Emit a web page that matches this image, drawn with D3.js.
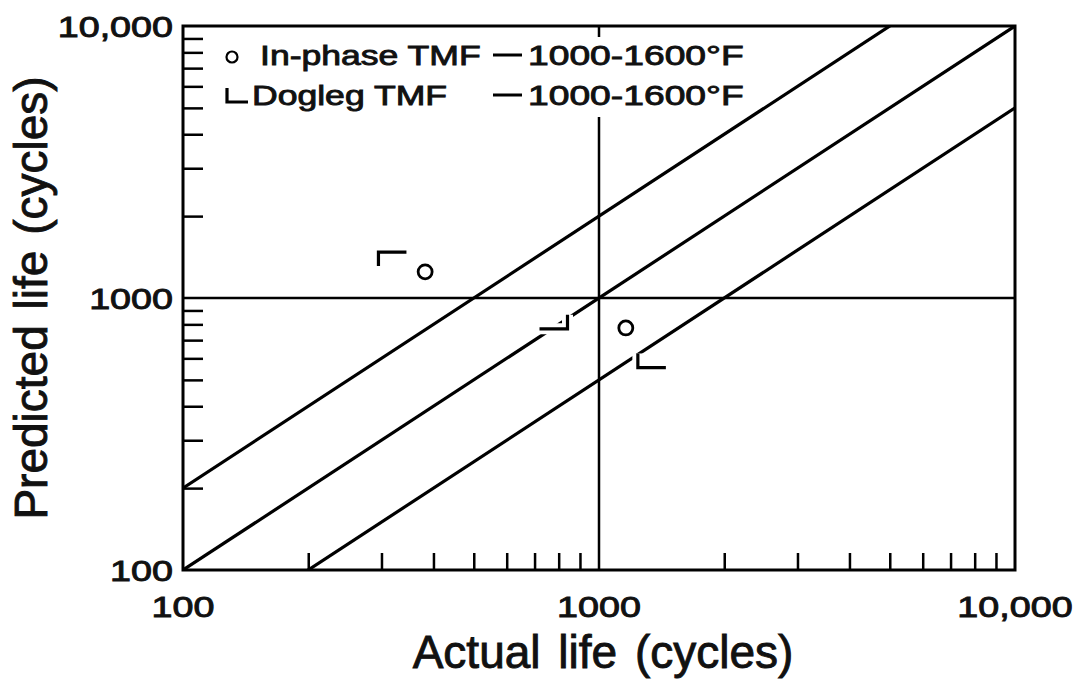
<!DOCTYPE html>
<html>
<head>
<meta charset="utf-8">
<script src="https://cdnjs.cloudflare.com/ajax/libs/d3/7.8.5/d3.min.js"></script>
<style>
    body { margin: 0; background: #fff; }
    svg text { font-family: "Liberation Sans", Arial, sans-serif; fill: #111; stroke: #111; stroke-width: 0.9; }
</style>
</head>
<body>
<script>
// chart values
const xTickValues = [100, 1000, 10000];
const xTickLabels = ["100", "1000", "10,000"];
const yTickValues = [100, 1000, 10000];
const yTickLabels = ["100", "1000", "10,000"];
const minorTicks = [200, 300, 400, 500, 600, 700, 800, 900, 2000, 3000, 4000, 5000, 6000, 7000, 8000, 9000];
const lifeFactors = [2, 1, 0.5];                 // predicted = factor * actual
const inPhaseActual = [382, 1160];
const inPhasePredicted = [1248, 776];
const doglegActual = [295, 840, 1240];
const doglegPredicted = [1475, 770, 555];
const doglegArms = [[1, 1], [-1, -1], [1, -1]];   // direction of the horizontal / vertical stroke
const legendNames = ["In-phase TMF", "Dogleg TMF"];
const legendTemps = ["1000-1600°F", "1000-1600°F"];

const w = 1077, h = 681;
const padLeft = 183, padRight = 1015, padTop = 26, padBottom = 570;

const svg = d3.select("body").append("svg")
    .attr("width", w).attr("height", h);

const xScale = d3.scaleLog().domain([100, 10000]).range([padLeft, padRight]);
const yScale = d3.scaleLog().domain([100, 10000]).range([padBottom, padTop]);

svg.append("clipPath").attr("id", "plot")
    .append("rect")
    .attr("x", padLeft).attr("y", padTop)
    .attr("width", padRight - padLeft).attr("height", padBottom - padTop);

// text a bit wider than the font, like the original lettering
var wideText = function (x, y, str, size, anchor, stretch) {
    return svg.append("text")
        .attr("transform", "translate(" + x + "," + y + ") scale(" + stretch + ",1)")
        .attr("text-anchor", anchor)
        .attr("font-size", size)
        .text(str);
};

// lines through 1000
svg.append("line")
    .attr("x1", padLeft).attr("x2", padRight)
    .attr("y1", yScale(1000)).attr("y2", yScale(1000))
    .attr("stroke", "#000").attr("stroke-width", 2.5);
svg.append("line")
    .attr("x1", xScale(1000)).attr("x2", xScale(1000))
    .attr("y1", padTop).attr("y2", padBottom)
    .attr("stroke", "#000").attr("stroke-width", 2.5);

// blank area behind the legend
svg.append("rect")
    .attr("x", 215).attr("y", 37)
    .attr("width", 530).attr("height", 80)
    .attr("fill", "#fff");

// factor-of-two band
var lineGen = d3.line().x((d) => xScale(d[0])).y((d) => yScale(d[1]));
svg.selectAll(".band")
    .data(lifeFactors)
    .enter()
    .append("path")
    .attr("class", "band")
    .attr("clip-path", "url(#plot)")
    .attr("d", (f) => lineGen([[50, 50 * f], [20000, 20000 * f]]))
    .attr("fill", "none")
    .attr("stroke", "#000")
    .attr("stroke-width", 3.2);

// minor ticks, pointing inward
var y_axis = d3.axisLeft(yScale).tickValues(minorTicks).tickSize(-20).tickFormat("");
var x_axis = d3.axisBottom(xScale).tickValues(minorTicks).tickSize(-17).tickFormat("");
svg.append("g").attr("transform", "translate(" + padLeft + ",0)").call(y_axis);
svg.append("g").attr("transform", "translate(0," + padBottom + ")").call(x_axis);
svg.selectAll(".domain").remove();
svg.selectAll(".tick line").attr("stroke", "#000").attr("stroke-width", 2.5);

svg.append("rect")
    .attr("x", padLeft).attr("y", padTop)
    .attr("width", padRight - padLeft).attr("height", padBottom - padTop)
    .attr("fill", "none")
    .attr("stroke", "#000")
    .attr("stroke-width", 3);

// tick labels
xTickValues.forEach((v, i) => wideText(xScale(v), padBottom + 47, xTickLabels[i], 29, "middle", 1.3));
yTickValues.forEach((v, i) => wideText(padLeft - 10, yScale(v) + 10.5, yTickLabels[i], 29, "end", 1.3));

// axis titles
svg.append("text")
    .attr("x", (padLeft + padRight) / 2 + 4).attr("y", 668)
    .attr("text-anchor", "middle")
    .attr("font-size", 46)
    .style("word-spacing", "5px")
    .text("Actual life (cycles)");
svg.append("text")
    .attr("transform", "translate(47," + yScale(1000) + ") rotate(-90)")
    .attr("text-anchor", "middle")
    .attr("font-size", 46)
    .style("word-spacing", "3px")
    .text("Predicted life (cycles)");

// markers
var drawDogleg = function (cx, cy, arms, hl, vl) {
    const d = "M" + (cx + arms[0] * hl) + "," + cy + "L" + cx + "," + cy + "L" + cx + "," + (cy + arms[1] * vl);
    svg.append("path").attr("d", d).attr("fill", "none")
        .attr("stroke", "#fff").attr("stroke-width", 11);
    svg.append("path").attr("d", d).attr("fill", "none")
        .attr("stroke", "#000").attr("stroke-width", 3.2);
};

inPhaseActual.forEach((a, i) => {
    svg.append("circle")
        .attr("cx", xScale(a)).attr("cy", yScale(inPhasePredicted[i]))
        .attr("r", 7)
        .attr("fill", "#fff")
        .attr("stroke", "#000")
        .attr("stroke-width", 2.8);
});
doglegActual.forEach((a, i) => drawDogleg(xScale(a), yScale(doglegPredicted[i]), doglegArms[i], 28, 14));

// legend
svg.append("circle")
    .attr("cx", 232).attr("cy", 57).attr("r", 5.5)
    .attr("fill", "none").attr("stroke", "#000").attr("stroke-width", 2.2);
drawDogleg(227, 102, [1, -1], 21, 14);

const legendX = [260, 252];
legendNames.forEach((name, i) => {
    const base = 65 + i * 40;
    wideText(legendX[i], base, name, 28, "start", 1.27);
    svg.append("line")
        .attr("x1", 493).attr("x2", 522)
        .attr("y1", base - 10).attr("y2", base - 10)
        .attr("stroke", "#000").attr("stroke-width", 3);
    wideText(528, base, legendTemps[i], 28, "start", 1.33);
});
</script>
</body>
</html>
